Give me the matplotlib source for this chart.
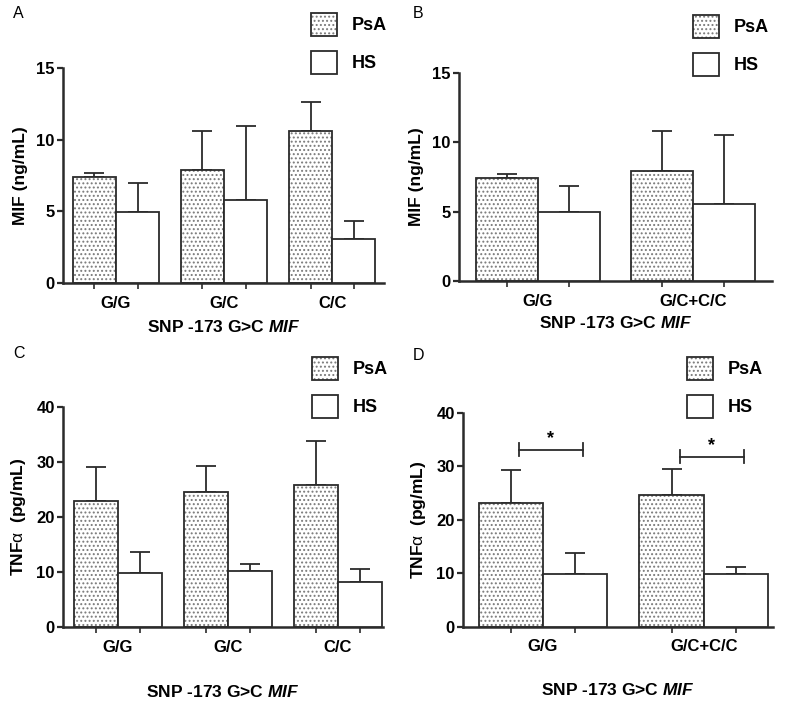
import matplotlib
matplotlib.use("Agg")
import matplotlib.pyplot as plt
from matplotlib.patches import Rectangle
import numpy as np

plt.rcParams['font.family'] = ['Liberation Sans', 'DejaVu Sans']
plt.rcParams['mathtext.fontset'] = 'custom'
plt.rcParams['mathtext.rm'] = 'Liberation Sans'
plt.rcParams['mathtext.it'] = 'Liberation Sans:italic:bold'
plt.rcParams['mathtext.bf'] = 'Liberation Sans:bold'
plt.rcParams['hatch.linewidth'] = 0.9

# data
cats3 = ["G/G", "G/C", "C/C"]
cats2 = ["G/G", "G/C+C/C"]

mif3_psa = [7.38, 7.89, 10.62]
mif3_psa_err = [7.68, 10.6, 12.62]
mif3_hs = [4.95, 5.76, 3.04]
mif3_hs_err = [6.98, 10.97, 4.34]

mif2_psa = [7.39, 7.94]
mif2_psa_err = [7.70, 10.8]
mif2_hs = [4.94, 5.52]
mif2_hs_err = [6.82, 10.51]

tnf3_psa = [23.0, 24.5, 25.9]
tnf3_psa_err = [29.1, 29.2, 33.9]
tnf3_hs = [9.8, 10.1, 8.1]
tnf3_hs_err = [13.7, 11.5, 10.6]

tnf2_psa = [23.05, 24.6]
tnf2_psa_err = [29.2, 29.4]
tnf2_hs = [9.85, 9.85]
tnf2_hs_err = [13.7, 11.1]
tnf2_sig_y = [33.1, 31.8]

W, H = 800, 709
EDGE = "#2b2b2b"
DOT = "#7a7a7a"

fig = plt.figure(figsize=(8, 7.09), dpi=100)


def rect(left, right, bottom, top):
    return [left / W, 1 - bottom / H, (right - left) / W, (bottom - top) / H]


def legend(x, y):
    # two boxes, PsA dotted / HS plain
    for i, (lab, hatch) in enumerate([("PsA", "...."), ("HS", None)]):
        yy = y + i * 38
        r = Rectangle((x / W, 1 - (yy + 23) / H), 26 / W, 23 / H,
                      transform=fig.transFigure, facecolor="white",
                      edgecolor=DOT if hatch else EDGE, hatch=hatch, lw=0)
        fig.add_artist(r)
        r2 = Rectangle((x / W, 1 - (yy + 23) / H), 26 / W, 23 / H,
                       transform=fig.transFigure, facecolor="none",
                       edgecolor=EDGE, lw=1.3)
        fig.add_artist(r2)
        fig.text((x + 41) / W, 1 - (yy + 12) / H, lab, fontsize=13,
                 fontweight="bold", va="center", ha="left")


def panel(pos, xlim, cats, psa, psa_err, hs, hs_err, ylim, yticks, ylabel,
          xlabelpad, w=0.4):
    ax = fig.add_axes(pos)
    x = np.arange(len(cats))
    xp = x - w / 2
    xh = x + w / 2
    ax.bar(xp, psa, w, color="white", edgecolor=DOT, hatch="....", lw=0,
           zorder=2)
    ax.bar(xp, psa, w, color="none", edgecolor=EDGE, lw=1.3, zorder=3)
    ax.bar(xh, hs, w, color="white", edgecolor=EDGE, lw=1.3, zorder=3)
    up_p = np.array(psa_err) - np.array(psa)
    up_h = np.array(hs_err) - np.array(hs)
    ax.errorbar(xp, psa, yerr=[np.zeros(len(cats)), up_p], fmt="none",
                ecolor=EDGE, elinewidth=1.3, capsize=7, capthick=1.3, zorder=1)
    ax.errorbar(xh, hs, yerr=[np.zeros(len(cats)), up_h], fmt="none",
                ecolor=EDGE, elinewidth=1.3, capsize=7, capthick=1.3, zorder=1)
    ax.set_xlim(*xlim)
    ax.set_ylim(*ylim)
    ax.set_yticks(yticks)
    ax.set_yticklabels([str(t) for t in yticks], fontweight="bold",
                       fontsize=12)
    ax.set_xticks(np.concatenate([xp, xh]))
    ax.set_xticklabels([])
    ax.set_xticks(x, minor=True)
    ax.set_xticklabels(cats, minor=True, fontweight="bold", fontsize=12)
    ax.tick_params(axis="x", which="minor", length=0, pad=9)
    ax.tick_params(axis="x", which="major", length=4, width=1.2, color=EDGE)
    ax.tick_params(axis="y", length=4, width=1.6, color=EDGE, pad=2)
    for s in ["top", "right"]:
        ax.spines[s].set_visible(False)
    for s in ["left", "bottom"]:
        ax.spines[s].set_linewidth(1.8)
        ax.spines[s].set_color(EDGE)
    ax.set_ylabel(ylabel, fontweight="bold", fontsize=12.5, labelpad=6)
    ax.set_xlabel(r"SNP -173 G>C $\mathit{MIF}$", fontweight="bold",
                  fontsize=12.5, labelpad=xlabelpad)
    ax.patch.set_alpha(0)
    return ax


panel(rect(63, 384, 283, 68), (-0.49, 2.48), cats3, mif3_psa, mif3_psa_err,
      mif3_hs, mif3_hs_err, (0, 15), [0, 5, 10, 15], "MIF (ng/mL)", 6)
panel(rect(459, 772, 281, 72.7), (-0.507, 1.508), cats2, mif2_psa,
      mif2_psa_err, mif2_hs, mif2_hs_err, (0, 15), [0, 5, 10, 15],
      "MIF (ng/mL)", 5)
panel(rect(63, 383, 627, 407), (-0.5, 2.41), cats3, tnf3_psa, tnf3_psa_err,
      tnf3_hs, tnf3_hs_err, (0, 40), [0, 10, 20, 30, 40],
      r"TNF$\mathrm{\alpha}$  (pg/mL)", 21)
axd = panel(rect(463, 773, 626.7, 412.7), (-0.497, 1.43), cats2, tnf2_psa,
            tnf2_psa_err, tnf2_hs, tnf2_hs_err, (0, 40), [0, 10, 20, 30, 40],
            r"TNF$\mathrm{\alpha}$  (pg/mL)", 20)

# significance brackets in panel D
for i, yv in enumerate(tnf2_sig_y):
    x0, x1 = i - 0.2 + 0.05, i + 0.2 + 0.05
    axd.plot([x0, x1], [yv, yv], color=EDGE, lw=1.3)
    axd.plot([x0, x0], [yv - 1.2, yv + 1.2], color=EDGE, lw=1.3)
    axd.plot([x1, x1], [yv - 1.2, yv + 1.2], color=EDGE, lw=1.3)
    axd.text((x0 + x1) / 2, yv + 0.4, "*", ha="center", va="bottom",
             fontsize=13, fontweight="bold")

legend(311, 13)
legend(693, 15)
legend(312, 357)
legend(687, 357)

for lab, (px, py) in zip("ABCD", [(13, 14), (413, 14), (13, 354), (413, 356)]):
    fig.text(px / W, 1 - py / H, lab, fontsize=11.5, ha="left", va="center")

fig.savefig("out.png", dpi=100, facecolor="white")
